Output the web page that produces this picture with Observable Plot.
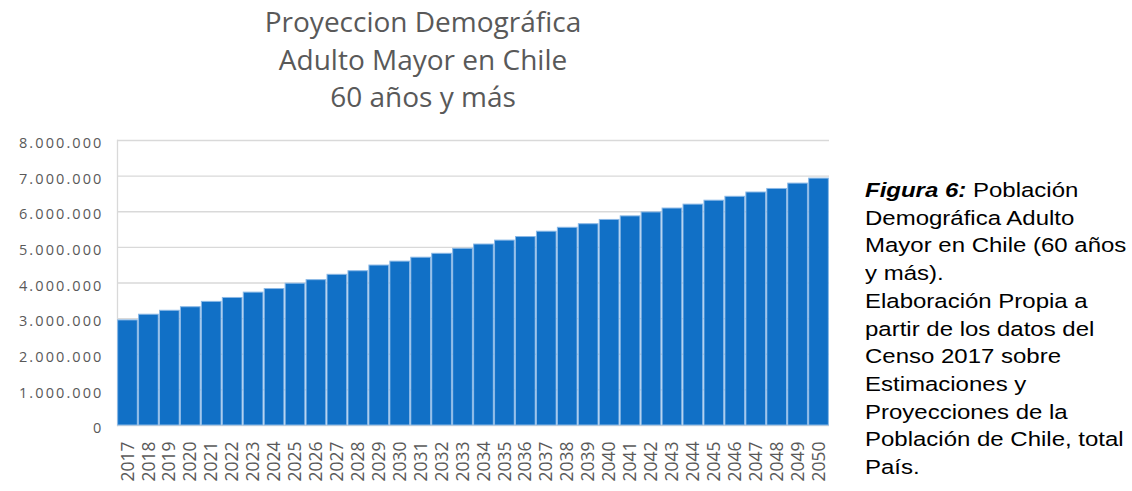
<!DOCTYPE html>
<html>
<head>
<meta charset="utf-8">
<script src="https://cdn.jsdelivr.net/npm/d3@7"></script>
<script src="https://cdn.jsdelivr.net/npm/@observablehq/plot@0.6"></script>
<style>
  html, body { margin: 0; padding: 0; background: #fff; }
  #wrap { position: relative; width: 1132px; height: 491px; overflow: hidden; }
  #title { position: absolute; left: 0; top: 3px; width: 846px; text-align: center;
           font-family: "Open Sans", sans-serif; font-size: 28px; line-height: 37.5px; color: #595959; }
  #chart { position: absolute; left: 0; top: 120px; }
  #caption { position: absolute; left: 865px; top: 176px; white-space: nowrap;
             font-family: "Liberation Sans", Arial, sans-serif; font-size: 20.5px; line-height: 27.7px; color: #000;
             transform: scaleX(1.17); transform-origin: 0 0; }
  #chart g[aria-label="y-axis tick label"] text { letter-spacing: 2.1px; }
</style>
</head>
<body>
<div id="wrap">
  <div id="title">Proyeccion Demográfica<br>Adulto Mayor en Chile<br>60 años y más</div>
  <div id="chart"></div>
  <div id="caption"><b><i>Figura 6:</i></b> Población<br>Demográfica Adulto<br>Mayor en Chile (60 años<br>y más).<br>Elaboración Propia a<br>partir de los datos del<br>Censo 2017 sobre<br>Estimaciones y<br>Proyecciones de la<br>Población de Chile, total<br>País.</div>
</div>
<script>
const years = ["2017","2018","2019","2020","2021","2022","2023","2024","2025","2026","2027","2028","2029","2030","2031","2032","2033","2034","2035","2036","2037","2038","2039","2040","2041","2042","2043","2044","2045","2046","2047","2048","2049","2050"];
const population = [2950000,3110000,3220000,3320000,3470000,3580000,3730000,3830000,3980000,4080000,4230000,4330000,4490000,4600000,4710000,4820000,4960000,5080000,5190000,5290000,5440000,5550000,5650000,5770000,5870000,5980000,6090000,6200000,6310000,6420000,6540000,6640000,6790000,6930000];
const yTicks = [0,1000000,2000000,3000000,4000000,5000000,6000000,7000000,8000000];

const data = years.map((y, i) => ({year: y, value: population[i]}));
const fmt = d3.formatLocale({decimal: ",", thousands: ".", grouping: [3], currency: ["$", ""]}).format(",d");

const chart = Plot.plot({
  width: 840,
  height: 371,
  marginTop: 20,
  marginBottom: 66,
  marginLeft: 117,
  marginRight: 11,
  style: {fontFamily: "Open Sans, sans-serif", background: "#fff"},
  x: {domain: years, paddingInner: 0.06, paddingOuter: 0.03},
  y: {domain: [0, 8000000]},
  marks: [
    Plot.gridY(yTicks, {stroke: "#d9d9d9", strokeOpacity: 1, strokeWidth: 1.3}),
    Plot.frame({anchor: "left", stroke: "#d9d9d9", strokeWidth: 1.3}),
    Plot.barY(data, {x: "year", y: "value", fill: "#1170c6", stroke: "#8ab8e6", strokeWidth: 1}),
    Plot.axisY(yTicks, {tickSize: 0, tickPadding: 14, tickFormat: fmt, fontSize: 14.5, fill: "#595959", label: null, dy: 3}),
    Plot.axisX({tickSize: 0, tickPadding: 16, tickRotate: -90, fontSize: 17.5, fill: "#595959", label: null})
  ]
});
document.getElementById("chart").appendChild(chart);
</script>
</body>
</html>
